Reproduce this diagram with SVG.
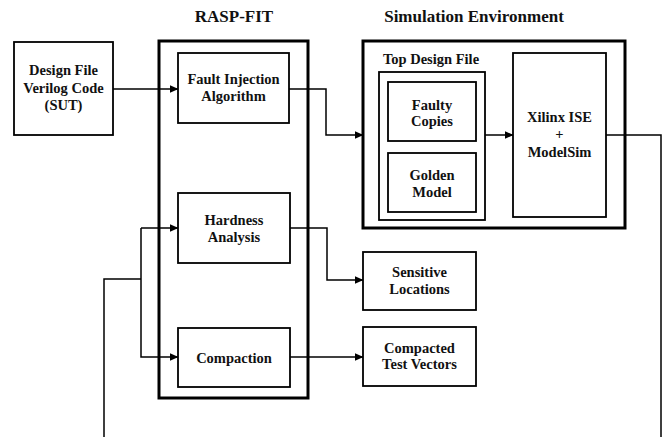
<svg xmlns="http://www.w3.org/2000/svg" width="664" height="437" viewBox="0 0 664 437">
  <defs>
    <marker id="arrow" markerWidth="9" markerHeight="8" refX="8.5" refY="4" orient="auto" markerUnits="userSpaceOnUse">
      <path d="M0,0 L9,4 L0,8 Z" fill="#000"/>
    </marker>
    <style>
      .box { fill: #fff; stroke: #000; stroke-width: 1.8; }
      .frame { fill: none; stroke: #000; stroke-width: 3; }
      .wire { fill: none; stroke: #000; stroke-width: 1.5; }
      .lbl { font-family: "Liberation Serif", "Times New Roman", serif; font-weight: bold; font-size: 14.5px; text-anchor: middle; fill: #111; }
      .title { font-family: "Liberation Serif", "Times New Roman", serif; font-weight: bold; font-size: 17px; text-anchor: middle; fill: #111; }
    </style>
  </defs>
  <rect width="664" height="437" fill="#fff"/>

  <!-- section titles -->
  <text class="title" x="234" y="22">RASP-FIT</text>
  <text class="title" x="474" y="22">Simulation Environment</text>

  <!-- connectors -->
  <g id="connectors">
    <path class="wire" d="M113,89 H178" marker-end="url(#arrow)"/>
    <path class="wire" d="M289,89 H326 V135 H363" marker-end="url(#arrow)"/>
    <path class="wire" d="M485,135 H513" marker-end="url(#arrow)"/>
    <path class="wire" d="M606,135 H661 V437"/>
    <path class="wire" d="M104,437 V279 H141"/>
    <path class="wire" d="M141,228 H178" marker-end="url(#arrow)"/>
    <path class="wire" d="M141,228 V357 H178" marker-end="url(#arrow)"/>
    <path class="wire" d="M290,228 H327 V280 H363" marker-end="url(#arrow)"/>
    <path class="wire" d="M290,357 H363" marker-end="url(#arrow)"/>
  </g>

  <g id="design-file">
    <rect class="box" x="14" y="42" width="99" height="93"/>
    <text class="lbl" x="63.5" y="75">Design File</text>
    <text class="lbl" x="63.5" y="92.5">Verilog Code</text>
    <text class="lbl" x="63.5" y="110">(SUT)</text>
  </g>

  <g id="rasp-fit">
    <rect class="frame" x="159" y="41" width="149" height="357"/>
  </g>

  <g id="fault-injection">
    <rect class="box" x="178" y="53" width="111" height="70"/>
    <text class="lbl" x="233.5" y="84">Fault Injection</text>
    <text class="lbl" x="233.5" y="101">Algorithm</text>
  </g>

  <g id="hardness-analysis">
    <rect class="box" x="178" y="193" width="112" height="70"/>
    <text class="lbl" x="234" y="225">Hardness</text>
    <text class="lbl" x="234" y="242">Analysis</text>
  </g>

  <g id="compaction">
    <rect class="box" x="178" y="328" width="112" height="59"/>
    <text class="lbl" x="234" y="363">Compaction</text>
  </g>

  <g id="simulation-environment">
    <rect class="frame" x="363" y="41" width="262" height="187"/>
  </g>

  <g id="top-design-file">
    <text class="lbl" x="431" y="64">Top Design File</text>
    <rect class="box" x="379" y="72" width="106" height="148"/>
  </g>

  <g id="faulty-copies">
    <rect class="box" x="388" y="82" width="88" height="59"/>
    <text class="lbl" x="432" y="110">Faulty</text>
    <text class="lbl" x="432" y="126">Copies</text>
  </g>

  <g id="golden-model">
    <rect class="box" x="388" y="153" width="88" height="59"/>
    <text class="lbl" x="432" y="180">Golden</text>
    <text class="lbl" x="432" y="197">Model</text>
  </g>

  <g id="xilinx-modelsim">
    <rect class="box" x="513" y="53" width="93" height="164"/>
    <text class="lbl" x="559.5" y="122">Xilinx ISE</text>
    <text class="lbl" x="559.5" y="139">+</text>
    <text class="lbl" x="559.5" y="157">ModelSim</text>
  </g>

  <g id="sensitive-locations">
    <rect class="box" x="363" y="252" width="113" height="58"/>
    <text class="lbl" x="419.5" y="277">Sensitive</text>
    <text class="lbl" x="419.5" y="294">Locations</text>
  </g>

  <g id="compacted-test-vectors">
    <rect class="box" x="363" y="327" width="113" height="59"/>
    <text class="lbl" x="419.5" y="353">Compacted</text>
    <text class="lbl" x="419.5" y="369">Test Vectors</text>
  </g>
</svg>
